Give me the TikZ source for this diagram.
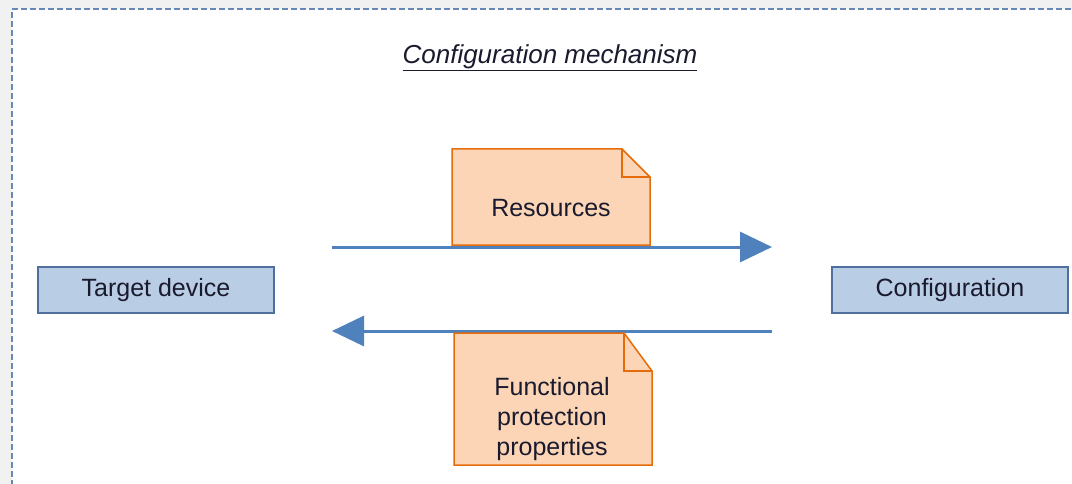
\documentclass[tikz,border=0pt]{standalone}
\usepackage{fontspec}
\setmainfont{Liberation Sans}
\usetikzlibrary{arrows.meta}
\definecolor{bgray}{HTML}{F1F1F1}
\definecolor{frameblue}{HTML}{6588B6}
\definecolor{boxfill}{HTML}{B9CDE5}
\definecolor{boxline}{HTML}{4F6F9F}
\definecolor{arrowblue}{HTML}{4F81BD}
\definecolor{notefill}{HTML}{FBD5B5}
\definecolor{noteline}{HTML}{E46C0A}
\definecolor{txt}{HTML}{1A1A2E}
\tikzset{
  box/.style={draw=boxline, fill=boxfill, line width=1.5pt, minimum width=236pt, minimum height=46pt, inner sep=0pt, font=\fontsize{25}{30}\selectfont, text=txt},
  flow/.style={draw=arrowblue, line width=3pt, -{Triangle[length=32pt,width=30pt]}},
  notetext/.style={inner sep=0pt, align=center, font=\fontsize{25}{30}\selectfont, text=txt},
  noteshape/.style={draw=noteline, fill=notefill, line width=1.5pt, line join=miter}
}
\begin{document}
\begin{tikzpicture}[x=1pt,y=-1pt]
\useasboundingbox (0,0) rectangle (1072,484);
\fill[bgray] (0,0) rectangle (1072,484);
\fill[white] (12,9) rectangle (1080,490);
\draw[frameblue, line width=2.2pt, dash pattern=on 6pt off 3pt] (1080,9) -- (12,9) -- (12,490);

\node[font=\itshape\fontsize{26}{30}\selectfont, text=txt, inner sep=0pt] (title) at (550,58) {\underline{Configuration mechanism}};

\node[box] (target) at (156,290) {Target device};
\node[box] (config) at (950,290) {Configuration};

\coordinate (a1s) at (332,247);
\coordinate (a1e) at (772,247);
\coordinate (a2s) at (772,331);
\coordinate (a2e) at (332,331);
\draw[flow] (a1s) -- (a1e);
\draw[flow] (a2s) -- (a2e);

% Resources note
\draw[noteshape] (452,149) -- (622,149) -- (650,177) -- (650,245) -- (452,245) -- cycle;
\draw[noteshape, fill=none] (622,149) -- (622,177) -- (650,177);
\node[notetext] (res) at (551,208) {Resources};

% Functional protection properties note
\draw[noteshape] (454,333) -- (624,333) -- (652,371) -- (652,465) -- (454,465) -- cycle;
\draw[noteshape, fill=none] (624,333) -- (624,371) -- (652,371);
\node[notetext] (fpp) at (552,419) {Functional\\protection\\properties};
\end{tikzpicture}
\end{document}
